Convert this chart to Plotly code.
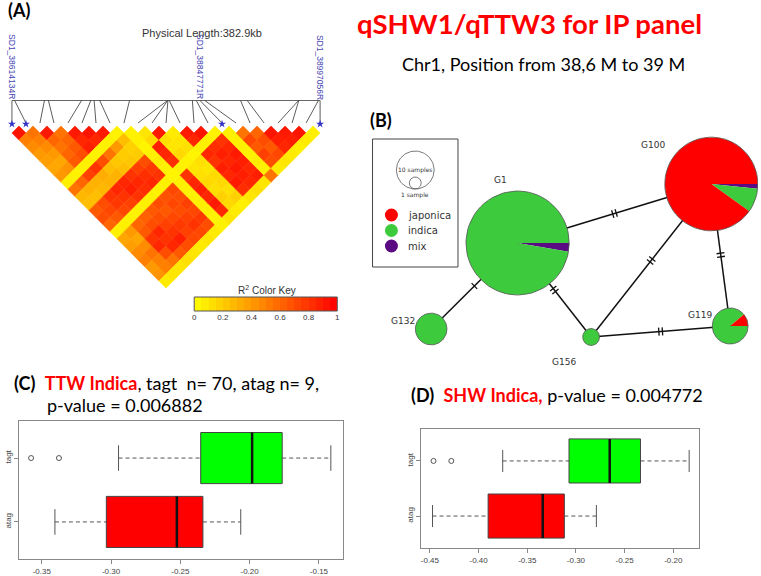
import math
import plotly.graph_objects as go

W, H = 761, 576

# ---------------- DATA ----------------
# Panel A: LD plot (23 SNPs)
snp_phys_bp = [38614134, 38617469, 38654527, 38659468, 38700600, 38712087, 38716287,
               38723204, 38760261, 38807400, 38807700, 38808000, 38809670, 38838330,
               38843271, 38847771, 38853771, 38898237, 38906513, 38970253, 38970600,
               38994956, 38997056]
labelled_snps = [1, 16, 23]
labelled_names = ["SD1_38614134R", "SD1_38847771R", "SD1_38997056R"]
star_snps = [1, 2, 16, 23]
# upper triangle of R^2 : row i holds r2(i, j) for j = i+1 .. 23
ld_r2 = [
    [0.92, 0.50, 0.45, 0.40, 0.38, 0.35, 0.40, 0.06, 0.55, 0.28, 0.25, 0.65, 0.70, 0.60, 0.05, 0.35, 0.38, 0.45, 0.50, 0.40, 0.42, 0.08],
    [0.55, 0.50, 0.45, 0.40, 0.35, 0.42, 0.05, 0.60, 0.30, 0.25, 0.70, 0.72, 0.65, 0.06, 0.40, 0.35, 0.45, 0.55, 0.50, 0.50, 0.10],
    [0.90, 0.60, 0.55, 0.60, 0.65, 0.05, 0.75, 0.30, 0.28, 0.80, 0.78, 0.72, 0.05, 0.60, 0.65, 0.80, 0.85, 0.70, 0.55, 0.10],
    [0.55, 0.60, 0.65, 0.70, 0.06, 0.80, 0.32, 0.30, 0.85, 0.80, 0.75, 0.05, 0.62, 0.70, 0.85, 0.80, 0.85, 0.65, 0.12],
    [0.90, 0.85, 0.88, 0.05, 0.70, 0.25, 0.30, 0.85, 0.88, 0.80, 0.06, 0.65, 0.70, 0.75, 0.80, 0.88, 0.70, 0.10],
    [0.92, 0.85, 0.05, 0.55, 0.22, 0.25, 0.80, 0.85, 0.82, 0.05, 0.70, 0.65, 0.72, 0.78, 0.75, 0.72, 0.08],
    [0.90, 0.06, 0.40, 0.20, 0.22, 0.75, 0.82, 0.85, 0.05, 0.68, 0.72, 0.70, 0.75, 0.80, 0.72, 0.10],
    [0.05, 0.25, 0.18, 0.20, 0.70, 0.78, 0.80, 0.06, 0.72, 0.70, 0.75, 0.72, 0.78, 0.70, 0.08],
    [0.05, 0.06, 0.04, 0.05, 0.07, 0.05, 0.04, 0.06, 0.05, 0.05, 0.06, 0.05, 0.04, 0.05],
    [0.10, 0.15, 0.88, 0.85, 0.82, 0.05, 0.80, 0.85, 0.88, 0.85, 0.90, 0.85, 0.10],
    [0.90, 0.12, 0.10, 0.15, 0.05, 0.10, 0.12, 0.15, 0.12, 0.18, 0.15, 0.08],
    [0.08, 0.10, 0.12, 0.04, 0.12, 0.10, 0.14, 0.15, 0.12, 0.18, 0.06],
    [0.90, 0.85, 0.05, 0.85, 0.80, 0.88, 0.85, 0.90, 0.82, 0.10],
    [0.92, 0.06, 0.82, 0.88, 0.85, 0.90, 0.88, 0.85, 0.12],
    [0.05, 0.80, 0.85, 0.90, 0.88, 0.85, 0.88, 0.10],
    [0.06, 0.05, 0.06, 0.05, 0.07, 0.06, 0.55],
    [0.55, 0.72, 0.65, 0.75, 0.70, 0.08],
    [0.60, 0.70, 0.65, 0.72, 0.10],
    [0.92, 0.88, 0.85, 0.08],
    [0.90, 0.88, 0.06],
    [0.92, 0.08],
    [0.06],
]
key_values = [0.025, 0.075, 0.125, 0.175, 0.225, 0.275, 0.325, 0.375, 0.425, 0.475,
              0.525, 0.575, 0.625, 0.675, 0.725, 0.775, 0.825, 0.875, 0.925, 0.975]
key_ticks = [0, 0.2, 0.4, 0.6, 0.8, 1]
key_ticktext = ["0", "0.2", "0.4", "0.6", "0.8", "1"]

# Panel B: haplotype network
hap_names = ["G1", "G100", "G119", "G132", "G156"]
hap_mix = [2, 1, 0, 0, 0]
hap_indica = [73, 5, 8, 7, 2]
hap_japonica = [0, 55, 1, 0, 0]
hap_edges = [("G1", "G100", 2), ("G1", "G132", 1), ("G1", "G156", 2),
             ("G156", "G100", 2), ("G100", "G119", 2), ("G156", "G119", 2)]
group_names = ["japonica", "indica", "mix"]
size_legend_samples = [10, 1]
size_legend_text = ["10 samples", "1 sample"]

# Panel C: TTW Indica
box_groups = ["atag", "tagt"]
ttw_lower = [-0.3405, -0.2946]
ttw_q1 = [-0.3034, -0.2353]
ttw_median = [-0.2525, -0.1982]
ttw_q3 = [-0.2337, -0.1765]
ttw_upper = [-0.2064, -0.1414]
ttw_outliers = [[], [-0.3577, -0.3376]]
ttw_ticks = [-0.35, -0.30, -0.25, -0.20, -0.15]

# Panel D: SHW Indica
shw_lower = [-0.4473, -0.3752]
shw_q1 = [-0.3902, -0.3071]
shw_median = [-0.3341, -0.2653]
shw_q3 = [-0.3119, -0.2337]
shw_upper = [-0.2790, -0.1837]
shw_outliers = [[], [-0.4463, -0.4280]]
shw_ticks = [-0.45, -0.40, -0.35, -0.30, -0.25, -0.20]

# ---------------- STYLE / LAYOUT ----------------
RED = "#FF0000"
GREEN_NODE = "#3DCB3D"
PURPLE = "#5A0B84"
grp_colors = {"japonica": RED, "indica": GREEN_NODE, "mix": PURPLE}
box_colors = ["#FF0000", "#00FF00"]
TITLE_FONT = "Lato, 'Open Sans', sans-serif"
R_FONT = "'Liberation Sans', Arial, sans-serif"
NET_FONT = "'DejaVu Sans', Verdana, sans-serif"


def px2x(px):
    return px / W


def px2y(py):
    return 1 - py / H


def note(px, py, text, size, color="black", family=TITLE_FONT, xanchor="center",
         yanchor="middle", xref="paper", yref="paper", **kw):
    if xref == "paper":
        px = px2x(px)
    if yref == "paper":
        py = px2y(py)
    d = dict(x=px, y=py, xref=xref, yref=yref, text=text, showarrow=False,
             xanchor=xanchor, yanchor=yanchor, borderpad=0,
             font=dict(family=family, size=size, color=color))
    d.update(kw)
    return d


fig = go.Figure()

# ---- Panel A geometry (1 unit = SNP spacing = 14.1 px) ----
UNIT = 14.1
A_X0, A_X1, A_Y0, A_Y1 = 0, 340, 0, 322
SNP1_PX, ROW1_PY = 10, 133


def ax_x(px):
    return 1 + (px - SNP1_PX) / UNIT


def ax_y(py):
    return (ROW1_PY - py) / UNIT


def r2_color(v):
    g = int(round(255 * (1 - v)))
    return "rgb(255,%d,0)" % g


n_snp = len(snp_phys_bp)
for i in range(1, n_snp):
    row = ld_r2[i - 1]
    for k, v in enumerate(row):
        j = i + 1 + k
        cx = (i + j) / 2.0
        cy = -(j - i - 1) * 0.5
        c = r2_color(v)
        fig.add_trace(go.Scatter(
            x=[cx - 0.5, cx, cx + 0.5, cx, cx - 0.5],
            y=[cy, cy + 0.5, cy, cy - 0.5, cy],
            mode="lines", fill="toself", fillcolor=c,
            line=dict(color=c, width=0.6),
            xaxis="x", yaxis="y", hoverinfo="skip", showlegend=False))

bp0, bp1 = snp_phys_bp[0], snp_phys_bp[-1]
phys_x = [1 + (b - bp0) / (bp1 - bp0) * (n_snp - 1) for b in snp_phys_bp]
y_line = ax_y(100.5)
y_low = ax_y(123)

# physical axis line
fig.add_trace(go.Scatter(x=[phys_x[0], phys_x[-1]], y=[y_line, y_line], mode="lines",
                         line=dict(color="#666666", width=1), xaxis="x", yaxis="y",
                         hoverinfo="skip", showlegend=False))
cx_, cy_ = [], []
for i in range(n_snp):
    cx_ += [phys_x[i], i + 1, None]
    cy_ += [y_line, y_low, None]
fig.add_trace(go.Scatter(x=cx_, y=cy_, mode="lines", line=dict(color="#333333", width=0.8),
                         xaxis="x", yaxis="y", hoverinfo="skip", showlegend=False))
fig.add_trace(go.Scatter(x=[s for s in star_snps], y=[ax_y(124)] * len(star_snps), mode="markers",
                         marker=dict(symbol="star", size=6, color="#3232C8"),
                         xaxis="x", yaxis="y", hoverinfo="skip", showlegend=False))

annotations = []
for s, name in zip(labelled_snps, labelled_names):
    annotations.append(note(phys_x[s - 1], y_line, name, 8.5, color="#4646B4", family=R_FONT,
                            xref="x", yref="y", yanchor="bottom", textangle=90))
annotations.append(note(201, 33, "Physical Length:382.9kb", 11, color="#333333", family=R_FONT))

# colour key
fig.add_trace(go.Heatmap(z=[key_values], x=key_values, y=[0],
                         colorscale=[[0, "#FFFF00"], [1, "#FF0000"]], zmin=0, zmax=1,
                         showscale=False, xaxis="x2", yaxis="y2", hoverinfo="skip"))
annotations.append(note(267, 297, "R<sup>2</sup> Color Key", 10, color="#333333",
                        family=R_FONT, yanchor="bottom"))

# ---- Panel B : haplotype network (1 unit = 1 px) ----
node_pos = {"G1": (519, 243), "G100": (714, 184), "G119": (733, 326),
            "G132": (432, 329), "G156": (593, 337)}
label_pos = {"G1": (502, 180), "G100": (655, 145), "G119": (703, 315),
             "G132": (404, 321), "G156": (566, 362)}
R_PER_SQRT = 6.0


def radius(nsamp):
    return R_PER_SQRT * math.sqrt(nsamp)


# edges
ex, ey = [], []
for a, b, m in hap_edges:
    (x1, y1), (x2, y2) = node_pos[a], node_pos[b]
    ex += [x1, x2, None]
    ey += [y1, y2, None]
fig.add_trace(go.Scatter(x=ex, y=ey, mode="lines", line=dict(color="#111111", width=1.5),
                         xaxis="x3", yaxis="y3", hoverinfo="skip", showlegend=False))
hx, hy = [], []
for a, b, m in hap_edges:
    (x1, y1), (x2, y2) = node_pos[a], node_pos[b]
    L = math.hypot(x2 - x1, y2 - y1)
    ux, uy = (x2 - x1) / L, (y2 - y1) / L
    px_, py_ = -uy, ux
    mx, my = (x1 + x2) / 2, (y1 + y2) / 2
    for t in range(m):
        off = (t - (m - 1) / 2) * 3.6
        qx, qy = mx + ux * off, my + uy * off
        hx += [qx - px_ * 4, qx + px_ * 4, None]
        hy += [qy - py_ * 4, qy + py_ * 4, None]
fig.add_trace(go.Scatter(x=hx, y=hy, mode="lines", line=dict(color="#111111", width=1.3),
                         xaxis="x3", yaxis="y3", hoverinfo="skip", showlegend=False))


def arc(cx, cy, r, a0, a1, with_center=True):
    nstep = max(4, int(abs(a1 - a0) / (2 * math.pi) * 90))
    xs, ys = ([cx], [cy]) if with_center else ([], [])
    for s in range(nstep + 1):
        a = a0 + (a1 - a0) * s / nstep
        xs.append(cx + r * math.cos(a))
        ys.append(cy + r * math.sin(a))
    if with_center:
        xs.append(cx)
        ys.append(cy)
    return xs, ys


for idx, name in enumerate(hap_names):
    counts = {"mix": hap_mix[idx], "indica": hap_indica[idx], "japonica": hap_japonica[idx]}
    tot = sum(counts.values())
    r = radius(tot)
    cx, cy = node_pos[name]
    ang = 0.0
    for g in ["mix", "indica", "japonica"]:
        if counts[g] == 0:
            continue
        span = 2 * math.pi * counts[g] / tot
        if span >= 2 * math.pi - 1e-9:
            xs, ys = arc(cx, cy, r, 0, 2 * math.pi, with_center=False)
        else:
            xs, ys = arc(cx, cy, r, ang, ang + span)
        fig.add_trace(go.Scatter(x=xs, y=ys, mode="lines", fill="toself",
                                 fillcolor=grp_colors[g], line=dict(width=0, color=grp_colors[g]),
                                 xaxis="x3", yaxis="y3", hoverinfo="skip", showlegend=False))
        ang += span
    xs, ys = arc(cx, cy, r, 0, 2 * math.pi, with_center=False)
    fig.add_trace(go.Scatter(x=xs, y=ys, mode="lines", line=dict(color="#555555", width=0.8),
                             xaxis="x3", yaxis="y3", hoverinfo="skip", showlegend=False))
    lx, ly = label_pos[name]
    annotations.append(note(lx, ly, name, 9, color="#333333", family=NET_FONT,
                            xref="x3", yref="y3"))

# network legend
shapes = [dict(type="rect", xref="x3", yref="y3", x0=373, x1=459, y0=139, y1=267,
               line=dict(color="#444444", width=1), fillcolor="rgba(0,0,0,0)")]
leg_cx, leg_bottom = 416, 189
for ns in size_legend_samples:
    r = radius(ns)
    xs, ys = arc(leg_cx, leg_bottom - r, r, 0, 2 * math.pi, with_center=False)
    fig.add_trace(go.Scatter(x=xs, y=ys, mode="lines", line=dict(color="#555555", width=0.8),
                             xaxis="x3", yaxis="y3", hoverinfo="skip", showlegend=False))
annotations.append(note(leg_cx, leg_bottom - radius(10), size_legend_text[0], 6,
                        color="#333333", family=NET_FONT, xref="x3", yref="y3"))
annotations.append(note(leg_cx, 194.5, size_legend_text[1], 6, color="#333333",
                        family=NET_FONT, xref="x3", yref="y3"))
leg_y = [215, 230.5, 246]
fig.add_trace(go.Scatter(x=[392] * 3, y=leg_y, mode="markers",
                         marker=dict(size=13, color=[grp_colors[g] for g in group_names],
                                     line=dict(width=0)),
                         xaxis="x3", yaxis="y3", hoverinfo="skip", showlegend=False))
for g, yy in zip(group_names, leg_y):
    annotations.append(note(408, yy, g, 10, color="#333333", family=NET_FONT,
                            xanchor="left", xref="x3", yref="y3"))


# ---- Panels C / D : box plots ----
def draw_boxes(xa, ya, lower, q1, med, q3, upper, outl):
    hw = 0.4
    for k in range(len(box_groups)):
        pos = k + 1
        fig.add_trace(go.Scatter(x=[lower[k], q1[k], None, q3[k], upper[k]],
                                 y=[pos, pos, None, pos, pos], mode="lines",
                                 line=dict(color="#555555", width=1, dash="4px,3px"),
                                 xaxis=xa, yaxis=ya, hoverinfo="skip", showlegend=False))
        fig.add_trace(go.Scatter(x=[lower[k], lower[k], None, upper[k], upper[k]],
                                 y=[pos - hw / 2, pos + hw / 2, None, pos - hw / 2, pos + hw / 2],
                                 mode="lines", line=dict(color="#555555", width=1),
                                 xaxis=xa, yaxis=ya, hoverinfo="skip", showlegend=False))
        fig.add_trace(go.Scatter(x=[q1[k], q3[k], q3[k], q1[k], q1[k]],
                                 y=[pos - hw, pos - hw, pos + hw, pos + hw, pos - hw],
                                 mode="lines", fill="toself", fillcolor=box_colors[k],
                                 line=dict(color="#444444", width=1),
                                 xaxis=xa, yaxis=ya, hoverinfo="skip", showlegend=False))
        fig.add_trace(go.Scatter(x=[med[k], med[k]], y=[pos - hw, pos + hw], mode="lines",
                                 line=dict(color="#111111", width=2.5),
                                 xaxis=xa, yaxis=ya, hoverinfo="skip", showlegend=False))
        if outl[k]:
            fig.add_trace(go.Scatter(x=outl[k], y=[pos] * len(outl[k]), mode="markers",
                                     marker=dict(symbol="circle-open", size=5, color="#555555",
                                                 line=dict(width=1)),
                                     xaxis=xa, yaxis=ya, hoverinfo="skip", showlegend=False))


draw_boxes("x4", "y4", ttw_lower, ttw_q1, ttw_median, ttw_q3, ttw_upper, ttw_outliers)
draw_boxes("x5", "y5", shw_lower, shw_q1, shw_median, shw_q3, shw_upper, shw_outliers)

# ---- titles ----
annotations += [
    note(5, 10, "<b>(A)</b>", 18, xanchor="left"),
    note(369, 120, "<b>(B)</b>", 18, xanchor="left"),
    note(531, 24, "<b>qSHW1/qTTW3 for IP panel</b>", 27.5, color=RED),
    note(545, 64, "Chr1, Position from 38,6 M to 39 M", 18),
    note(11, 383, "<b>(C)</b>  <span style='color:#FF0000'><b>TTW Indica</b></span>, tagt  n= 70, atag n= 9,",
         18, xanchor="left"),
    note(44, 405, "p-value = 0.006882", 18, xanchor="left"),
    note(411, 395, "<b>(D)</b>  <span style='color:#FF0000'><b>SHW Indica,</b></span> p-value = 0.004772",
         18, xanchor="left"),
]

# key frame
shapes.append(dict(type="rect", xref="paper", yref="paper", x0=px2x(193.5), x1=px2x(337.5),
                   y0=px2y(311), y1=px2y(297), line=dict(color="#555555", width=1)))

box_axis_common = dict(showgrid=False, zeroline=False, showline=True, mirror=True,
                       linecolor="#888888", linewidth=1, ticks="outside", ticklen=4,
                       tickcolor="#888888", tickfont=dict(family=R_FONT, size=8, color="#444444"))

fig.update_layout(
    width=W, height=H, margin=dict(l=0, r=0, t=0, b=0), autosize=False,
    paper_bgcolor="white", plot_bgcolor="rgba(0,0,0,0)", showlegend=False,
    xaxis=dict(domain=[px2x(A_X0), px2x(A_X1)], range=[ax_x(A_X0), ax_x(A_X1)], visible=False),
    yaxis=dict(domain=[px2y(A_Y1), px2y(A_Y0)], range=[ax_y(A_Y1), ax_y(A_Y0)], visible=False),
    xaxis2=dict(domain=[px2x(193.5), px2x(337.5)], range=[0, 1], tickvals=key_ticks,
                ticktext=key_ticktext, ticks="", showgrid=False, zeroline=False, showline=False,
                tickfont=dict(family=R_FONT, size=8, color="#333333"), anchor="y2"),
    yaxis2=dict(domain=[px2y(311), px2y(297)], visible=False, anchor="x2"),
    xaxis3=dict(domain=[px2x(360), px2x(761)], range=[360, 761], visible=False, anchor="y3"),
    yaxis3=dict(domain=[px2y(380), px2y(100)], range=[380, 100], visible=False, anchor="x3"),
    xaxis4=dict(domain=[px2x(17), px2x(343)], range=[-0.3665, -0.1328], tickvals=ttw_ticks,
                ticktext=["%.2f" % t for t in ttw_ticks], anchor="y4", **box_axis_common),
    yaxis4=dict(domain=[px2y(559), px2y(421)], range=[0.42, 2.58], tickvals=[1, 2],
                ticktext=box_groups, tickangle=-90, anchor="x4", **box_axis_common),
    xaxis5=dict(domain=[px2x(422), px2x(702)], range=[-0.4589, -0.1732], tickvals=shw_ticks,
                ticktext=["%.2f" % t for t in shw_ticks], anchor="y5", **box_axis_common),
    yaxis5=dict(domain=[px2y(548), px2y(429)], range=[0.42, 2.58], tickvals=[1, 2],
                ticktext=box_groups, tickangle=-90, anchor="x5", **box_axis_common),
    annotations=annotations, shapes=shapes,
)

fig.write_html("out.html", config={"displayModeBar": False},
               post_script="document.body.style.margin='0px';document.body.style.overflow='hidden';")
